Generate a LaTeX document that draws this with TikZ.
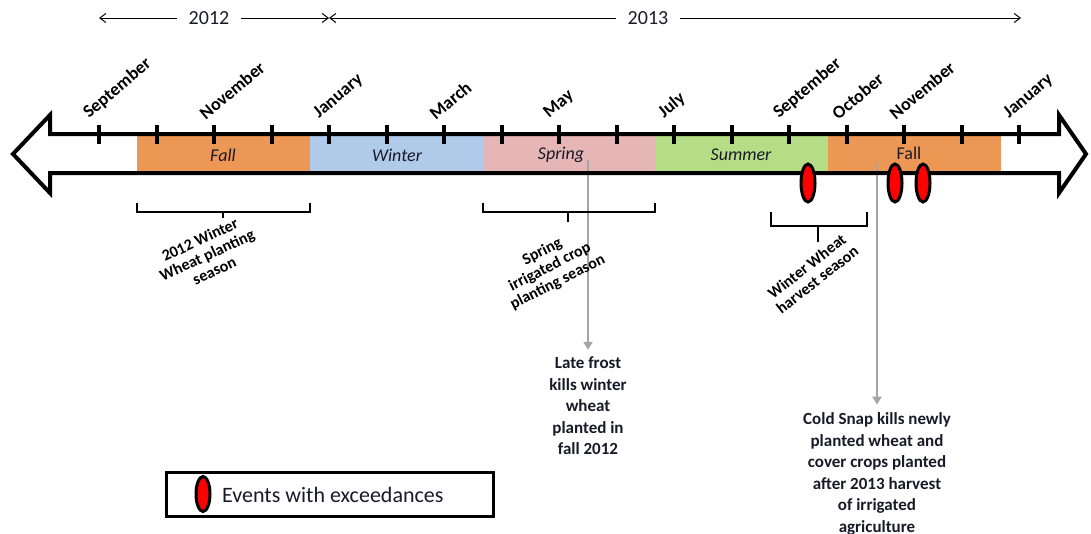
\documentclass[tikz,border=0pt]{standalone}
\usepackage{fontspec}
\setmainfont{Carlito}
\usetikzlibrary{arrows.meta,shapes.geometric}
\definecolor{fallc}{RGB}{236,152,84}
\definecolor{winterc}{RGB}{176,202,234}
\definecolor{springc}{RGB}{229,182,181}
\definecolor{summerc}{RGB}{180,221,134}
\definecolor{grayl}{RGB}{165,165,165}
\definecolor{txt}{RGB}{25,25,40}
\begin{document}
\begin{tikzpicture}[x=1pt,y=-1pt,
  month/.style={font=\fontsize{18}{18}\selectfont\bfseries, anchor=south west, rotate=40, inner sep=0pt},
  season/.style={font=\fontsize{18}{18}\selectfont\itshape, text=txt},
  seasonup/.style={font=\fontsize{18}{18}\selectfont, text=txt},
  yearlbl/.style={font=\fontsize{20}{20}\selectfont, text=txt, inner xsep=12pt},
  yr/.style={line width=1pt, -{Straight Barb[length=6pt,width=9pt]}},
  tickm/.style={line width=4pt},
  brk/.style={line width=2pt},
  brklbl/.style={font=\fontsize{16}{17}\selectfont\bfseries, align=center, inner sep=0pt},
  note/.style={font=\fontsize{17}{21.5}\selectfont\bfseries, align=center, text=txt, inner sep=2pt},
  grayarr/.style={draw=grayl, line width=2pt, -{Triangle[length=8pt,width=9pt]}},
  event/.style={ellipse, draw=black, fill=red, line width=3pt, minimum width=14pt, minimum height=38pt, inner sep=0pt}
]
\useasboundingbox (0,0) rectangle (1091,533);

% year arrows
\node[yearlbl] (y12) at (209,18) {2012};
\node[yearlbl] (y13) at (648,18) {2013};
\coordinate (a12) at (99,18);
\coordinate (b12) at (329,18);
\coordinate (a13) at (329,18);
\coordinate (b13) at (1021,18);
\draw[yr] (y12) -- (a12);
\draw[yr] (y12) -- (b12);
\draw[yr] (y13) -- (a13);
\draw[yr] (y13) -- (b13);

% arrow body fill
\fill[white] (50,134) -- (1059,134) -- (1059,115) -- (1086,154) -- (1059,193) -- (1059,173) -- (50,173) -- (50,193) -- (13,154) -- (50,115) -- cycle;
% season bands
\fill[fallc] (137,134) rectangle (310,173);
\fill[winterc] (310,134) rectangle (483,173);
\fill[springc] (483,134) rectangle (655,173);
\fill[summerc] (655,134) rectangle (828,173);
\fill[fallc] (828,134) rectangle (1001,173);
\node[season] (sfall1) at (223,155) {Fall};
\node[season] (swinter) at (397,155) {Winter};
\node[season] (sspring) at (561,155) {Spring};
\node[season] (ssummer) at (741,155) {Summer};
\node[seasonup] (sfall2) at (909,153) {Fall};

% gray arrows and notes
\node[note] (frost) at (588,406) {Late frost\\kills winter\\wheat\\planted in\\fall 2012};
\node[note] (snap) at (877,474) {Cold Snap kills newly\\planted wheat and\\cover crops planted\\after 2013 harvest\\of irrigated\\agriculture};
\coordinate (g1) at (588,160);
\coordinate (g2) at (877,163);
\draw[grayarr] (g1) -- ([yshift=5pt]frost.north);
\draw[grayarr] (g2) -- ([yshift=6pt]snap.north);

% arrow outline
\draw[line width=4pt, line join=miter] (50,134) -- (1059,134) -- (1059,115) -- (1086,154) -- (1059,193) -- (1059,173) -- (50,173) -- (50,193) -- (13,154) -- (50,115) -- cycle;

% ticks
\foreach \i in {0,...,16} \draw[tickm] ({99+57.5*\i},125) -- ({99+57.5*\i},144);

% month labels
\foreach \i/\m in {0/September,2/November,4/January,6/March,8/May,10/July,12/September,13/October,14/November,16/January}
  \node[month] (m\i) at ({99+57.5*\i-8},121) {\m};

% events
\node[event] (e1) at (808,183) {};
\node[event] (e2) at (895,183) {};
\node[event] (e3) at (923,183) {};

% brackets
\draw[brk] (137,203) -- (137,212) -- (310,212) -- (310,203);
\draw[brk] (223,212) -- (223,218);
\draw[brk] (483,203) -- (483,212) -- (655,212) -- (655,203);
\draw[brk] (568,212) -- (568,222);
\draw[brk] (771,212) -- (771,226) -- (867,226) -- (867,212);
\draw[brk] (818,226) -- (818,242);
\node[brklbl, rotate=25] (l1) at (207,255) {2012 Winter\\Wheat planting\\season};
\node[brklbl, rotate=27] (l2) at (550,267) {Spring\\irrigated crop\\planting season};
\node[brklbl, rotate=38] (l3) at (812,273) {Winter Wheat\\harvest season};

% legend
\node[draw, line width=3pt, minimum width=327pt, minimum height=44pt, anchor=north west, inner sep=0pt] (legend) at (165,471) {};
\node[event, minimum width=14pt, minimum height=35pt] (le) at (203,494) {};
\node[font=\fontsize{22}{22}\selectfont, text=txt, anchor=west, inner sep=0pt] (lt) at (222,495) {Events with exceedances};
\end{tikzpicture}
\end{document}
